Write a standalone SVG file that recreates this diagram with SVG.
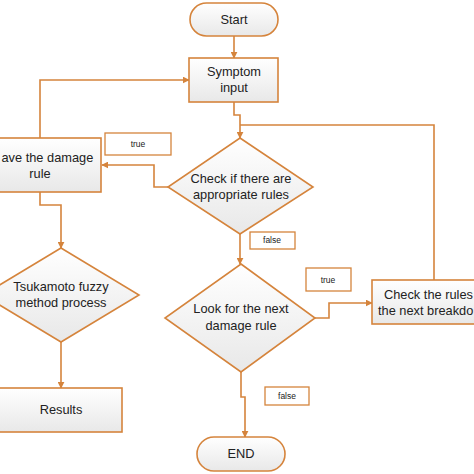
<svg xmlns="http://www.w3.org/2000/svg" width="474" height="474" viewBox="0 0 474 474">
<defs>
<linearGradient id="g" x1="0" y1="0" x2="0" y2="1">
<stop offset="0" stop-color="#ffffff"/>
<stop offset="1" stop-color="#e8e8e8"/>
</linearGradient>
<marker id="arr" viewBox="0 0 10 10" refX="9" refY="5" markerWidth="7" markerHeight="7" orient="auto" markerUnits="userSpaceOnUse">
<path d="M0,0 L10,5 L0,10 z" fill="#D5843C"/>
</marker>
<style>
.n{fill:url(#g);stroke:#D5843C;stroke-width:1.6}
.c{fill:none;stroke:#D5843C;stroke-width:1.6;marker-end:url(#arr)}
.l{fill:none;stroke:#D5843C;stroke-width:1.6}
.lb{fill:#fff;stroke:#D5843C;stroke-width:1.3}
.t{font-family:"Liberation Sans",Arial,sans-serif;font-size:12.8px;fill:#222;text-anchor:middle}
.s{font-family:"Liberation Sans",Arial,sans-serif;font-size:8.5px;fill:#222;text-anchor:middle}
</style>
</defs>
<rect width="474" height="474" fill="#fff"/>
<g id="connectors">
<path class="c" d="M234,36 V58"/>
<path class="c" d="M234,102 V115 H240 V138"/>
<path class="l" d="M434,280 V125 H240"/>
<path class="c" d="M168,187 H154 V165 H102"/>
<path class="c" d="M40,138 V80 H189"/>
<path class="c" d="M40,192 V205 H61 V248"/>
<path class="c" d="M61,342 V388"/>
<path class="c" d="M240,234 V264"/>
<path class="c" d="M315,318 H329 V303 H372"/>
<path class="c" d="M241,372 V397 H245 V437"/>
</g>
<g id="start"><rect class="n" x="190" y="3" width="88" height="33" rx="16.5"/><text class="t" x="234" y="24">Start</text></g>
<g id="symptom"><rect class="n" x="189" y="58" width="89" height="44"/><text class="t" x="234" y="76">Symptom</text><text class="t" x="234" y="92">input</text></g>
<g id="check"><polygon class="n" points="240,138 313,187 240,234 168,187"/><text class="t" x="241" y="183">Check if there are</text><text class="t" x="241" y="199">appropriate rules</text></g>
<g id="save"><rect class="n" x="-20" y="138" width="121" height="54"/><text class="t" x="1.5" y="162" style="text-anchor:start">ave the damage</text><text class="t" x="40" y="178">rule</text></g>
<g id="label-true1"><rect class="lb" x="105" y="133" width="66" height="22"/><text class="s" x="138" y="147">true</text></g>
<g id="tsukamoto"><polygon class="n" points="61,248 139,295 61,342 -17,295"/><text class="t" x="61" y="291">Tsukamoto fuzzy</text><text class="t" x="61" y="307">method process</text></g>
<g id="results"><rect class="n" x="-10" y="388" width="132" height="44"/><text class="t" x="61" y="414">Results</text></g>
<g id="label-false1"><rect class="lb" x="250" y="232" width="45" height="17"/><text class="s" x="272" y="243">false</text></g>
<g id="look"><polygon class="n" points="241,264 315,318 241,372 165,318"/><text class="t" x="241" y="313">Look for the next</text><text class="t" x="241" y="330">damage rule</text></g>
<g id="label-true2"><rect class="lb" x="306" y="268" width="45" height="23"/><text class="s" x="328" y="283">true</text></g>
<g id="checkrules"><rect class="n" x="372" y="280" width="126" height="44"/><text class="t" x="384" y="299" style="text-anchor:start">Check the rules</text><text class="t" x="378" y="315" style="text-anchor:start">the next breakdo</text></g>
<g id="label-false2"><rect class="lb" x="265" y="387" width="44" height="18"/><text class="s" x="287" y="399">false</text></g>
<g id="end"><rect class="n" x="197" y="437" width="88" height="34" rx="17"/><text class="t" x="241" y="458">END</text></g>
</svg>
